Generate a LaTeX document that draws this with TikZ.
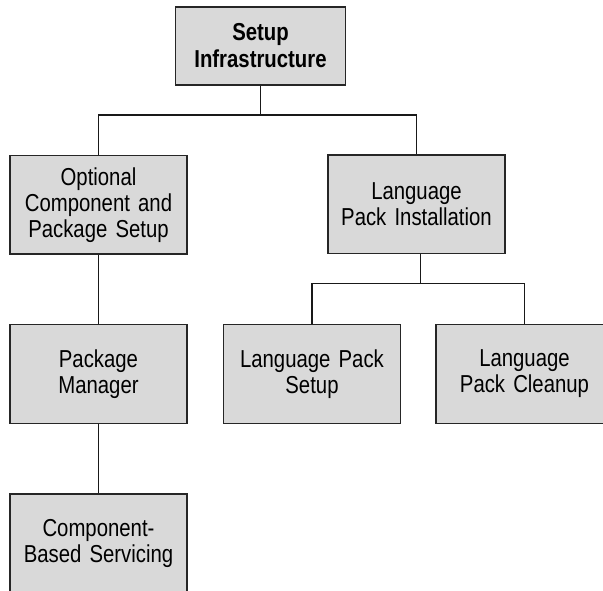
\documentclass[tikz,border=0pt]{standalone}
\usepackage{fontspec}
\setmainfont{Liberation Sans}[FakeStretch=0.83]
\begin{document}
\begin{tikzpicture}[x=1pt,y=-1pt,
  box/.style={draw=black!85, line width=1.3pt, fill=boxgray, minimum width=177pt, minimum height=98.5pt,
    text width=170pt, align=center, inner sep=0pt, font=\fontsize{24.5}{26}\selectfont},
  topbox/.style={box, minimum width=169pt, minimum height=78pt, font=\fontsize{24.5}{27}\selectfont\bfseries},
  link/.style={draw=black!90, line width=1.3pt}]
\definecolor{boxgray}{HTML}{D9D9D9}
\useasboundingbox (0,0) rectangle (603,591);
\clip (0,0) rectangle (603,591);
\node[topbox] (si) at (260.5,46) {Setup\\Infrastructure};
\node[box] (ocps) at (98.5,204.8) {Optional\\Component and\\Package Setup};
\node[box] (lpi) at (416.5,204.3) {Language\\Pack Installation};
\node[box] (pm) at (98.5,374) {Package\\Manager};
\node[box] (lps) at (312,374) {Language Pack\\Setup};
\node[box] (lpc) at (524.5,374) {Language\\Pack Cleanup};
\node[box] (cbs) at (98.5,543.3) {Component-\\Based Servicing};
\coordinate (j1) at (260.5,115);
\coordinate (j2) at (420.5,283.5);
\draw[link] (si.south) -- (j1);
\draw[link] (j1) -| (ocps.north);
\draw[link] (j1) -| (lpi.north);
\draw[link] (ocps.south) -- (pm.north);
\draw[link] (pm.south) -- (cbs.north);
\draw[link] (lpi.south -| j2) -- (j2);
\draw[link] (j2) -| (lps.north);
\draw[link] (j2) -| (lpc.north);
\end{tikzpicture}
\end{document}
